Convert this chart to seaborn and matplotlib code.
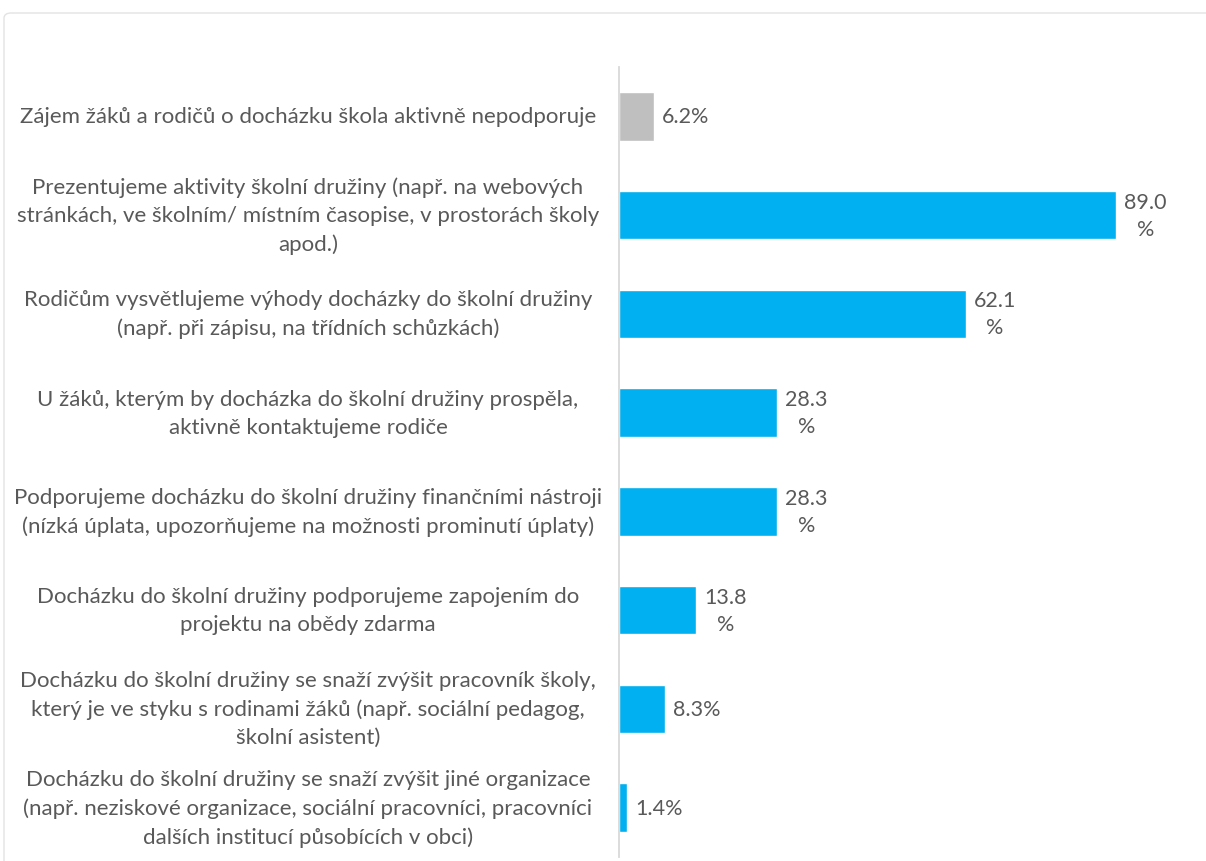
import matplotlib
matplotlib.use("Agg")
import matplotlib.pyplot as plt
from matplotlib.patches import FancyBboxPatch
import matplotlib.transforms as mtransforms
import seaborn as sns
import pandas as pd

sns.set_theme(style="white")
plt.rcParams["font.family"] = ["Lato", "DejaVu Sans"]

categories = [
    "Zájem žáků a rodičů o docházku škola aktivně nepodporuje",
    "Prezentujeme aktivity školní družiny (např. na webových\nstránkách, ve školním/ místním časopise, v prostorách školy\napod.)",
    "Rodičům vysvětlujeme výhody docházky do školní družiny\n(např. při zápisu, na třídních schůzkách)",
    "U žáků, kterým by docházka do školní družiny prospěla,\naktivně kontaktujeme rodiče",
    "Podporujeme docházku do školní družiny finančními nástroji\n(nízká úplata, upozorňujeme na možnosti prominutí úplaty)",
    "Docházku do školní družiny podporujeme zapojením do\nprojektu na obědy zdarma",
    "Docházku do školní družiny se snaží zvýšit pracovník školy,\nkterý je ve styku s rodinami žáků (např. sociální pedagog,\nškolní asistent)",
    "Docházku do školní družiny se snaží zvýšit jiné organizace\n(např. neziskové organizace, sociální pracovníci, pracovníci\ndalších institucí působících v obci)",
]
values = [6.2, 89.0, 62.1, 28.3, 28.3, 13.8, 8.3, 1.4]
bar_colors = ["#BFBFBF"] + ["#00B0F0"] * 7

W, H = 1206, 862
fig = plt.figure(figsize=(W / 100, H / 100), dpi=100)

# outer chart frame
frame = FancyBboxPatch((4 / W, -0.05), 1.2, (H - 14) / H + 0.05,
                       boxstyle="round,pad=0,rounding_size=0.006",
                       transform=fig.transFigure, fill=False,
                       edgecolor="#E3E3E3", linewidth=1.0)
fig.patches.append(frame)

ax = fig.add_axes([619 / W, 4 / H, (W - 619) / W, (858 - 68) / H])

df = pd.DataFrame({"label": categories, "value": values})
sns.barplot(data=df, x="value", y="label", hue="label",
            palette=bar_colors, legend=False, orient="h",
            width=0.49, ax=ax, saturation=1)

ax.set_xlim(0, 105.1)
ax.set_ylim(7.5, -0.5)
ax.set_xlabel("")
ax.set_ylabel("")
ax.set_xticks([])
ax.set_yticks([])
for side in ["top", "right", "bottom"]:
    ax.spines[side].set_visible(False)
ax.spines["left"].set_color("#D9D9D9")
ax.spines["left"].set_linewidth(1.3)

text_color = "#595959"
label_tf = mtransforms.blended_transform_factory(fig.transFigure, ax.transData)
for i, cat in enumerate(categories):
    ax.text(308 / W, i, cat, transform=label_tf, ha="center", va="center",
            multialignment="center", fontsize=16, color=text_color,
            linespacing=1.5)

offset = mtransforms.offset_copy(ax.transData, fig=fig, x=8, y=0, units="dots")
for i, v in enumerate(values):
    txt = f"{v:.1f}\n%" if v >= 10 else f"{v:.1f}%"
    ax.text(v, i, txt, transform=offset, ha="left", va="center",
            multialignment="center", fontsize=15.5, color=text_color,
            linespacing=1.45)

fig.savefig("out.png", dpi=100, facecolor="white")
